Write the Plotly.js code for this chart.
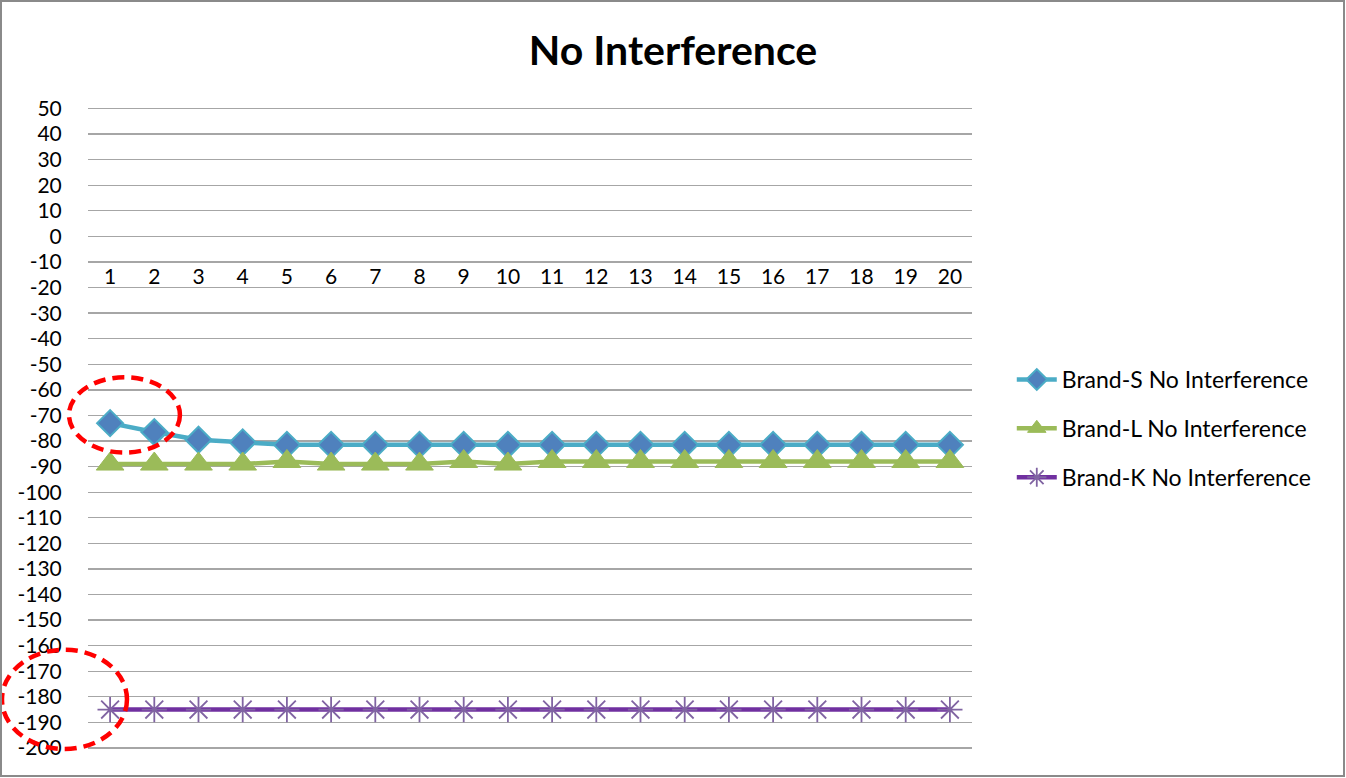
<!DOCTYPE html>
<html>
<head>
<meta charset="utf-8">
<script src="https://cdn.plot.ly/plotly-3.0.1.min.js"></script>
<style>
  html, body { margin: 0; padding: 0; background: #fff; }
  #chart { position: absolute; left: 0; top: 0; width: 1346px; height: 778px; }
  #frame { position: absolute; left: 0; top: 0; width: 1341px; height: 773px; border: 2px solid #8a8a8a; pointer-events: none; }
</style>
</head>
<body>
<div id="chart"></div>
<div id="frame"></div>
<script>
const categories = [1,2,3,4,5,6,7,8,9,10,11,12,13,14,15,16,17,18,19,20];
const brandS = [-73,-76.5,-79.5,-80.5,-81.5,-81.5,-81.5,-81.5,-81.5,-81.5,-81.5,-81.5,-81.5,-81.5,-81.5,-81.5,-81.5,-81.5,-81.5,-81.5];
const brandL = [-89,-89,-89,-89,-88,-89,-89,-89,-88,-89,-88,-88,-88,-88,-88,-88,-88,-88,-88,-88];
const brandK = [-185,-185,-185,-185,-185,-185,-185,-185,-185,-185,-185,-185,-185,-185,-185,-185,-185,-185,-185,-185];
const seriesNames = ['Brand-S No Interference','Brand-L No Interference','Brand-K No Interference'];
const yTicks = [50,40,30,20,10,0,-10,-20,-30,-40,-50,-60,-70,-80,-90,-100,-110,-120,-130,-140,-150,-160,-170,-180,-190,-200];

const FONT = 'Lato, "Liberation Sans", sans-serif';

const traces = [
  {x: categories, y: brandS, name: seriesNames[0], type: 'scatter', mode: 'lines+markers', legendgroup: 'a',
   line: {color: '#4BACC6', width: 4.5},
   marker: {symbol: 'diamond', size: 20, color: '#4F81BD', line: {color: '#4BACC6', width: 2}}},
  {x: categories, y: brandL, name: seriesNames[1], type: 'scatter', mode: 'lines+markers', legendgroup: 'b',
   line: {color: '#9BBB59', width: 4.5},
   marker: {symbol: 'triangle-up', size: 24, color: '#9BBB59', line: {color: '#9BBB59', width: 1}}},
  {x: categories, y: brandK, name: seriesNames[2], type: 'scatter', mode: 'lines+markers', legendgroup: 'c',
   line: {color: '#7030A0', width: 4.5},
   marker: {symbol: 'asterisk-open', size: 21, color: '#8064A2', line: {color: '#7B4FB5', width: 1.8}}}
];

const layout = {
  width: 1346, height: 778,
  margin: {l: 88, r: 374, t: 107, b: 28},
  paper_bgcolor: '#ffffff', plot_bgcolor: '#ffffff',
  font: {family: FONT, color: '#000', size: 21},
  title: {text: '<b>No Interference</b>', font: {family: FONT, size: 41, color: '#000'},
          x: 0.5, xref: 'container', xanchor: 'center', y: 0.935, yref: 'container', yanchor: 'middle'},
  xaxis: {range: [0.5, 20.5], anchor: 'free', position: 0.8, tickmode: 'array', tickvals: categories,
          ticktext: categories.map(String), showgrid: false, zeroline: false, showline: false,
          ticks: 'outside', ticklen: 22, tickcolor: 'rgba(0,0,0,0)',
          tickfont: {family: FONT, size: 21, color: '#000'}},
  yaxis: {range: [-200.8, 50.6], tickmode: 'array', tickvals: yTicks, ticktext: yTicks.map(String),
          showgrid: true, gridcolor: '#a6a6a6', gridwidth: 1.3, zeroline: false, showline: false,
          ticks: 'outside', ticklen: 21, tickcolor: 'rgba(0,0,0,0)',
          tickfont: {family: FONT, size: 21, color: '#000'}},
  legend: {x: 1.045, xanchor: 'left', y: 0.5, yanchor: 'middle', tracegroupgap: 16,
           font: {family: FONT, size: 23, color: '#000'}, bgcolor: 'rgba(0,0,0,0)', itemwidth: 40},
  shapes: [
    {type: 'circle', xref: 'paper', yref: 'paper', x0: -0.0215, x1: 0.104, y0: 0.4625, y1: 0.5797,
     line: {color: '#ff0000', width: 4.5, dash: '12px,7px'}},
    {type: 'circle', xref: 'paper', yref: 'paper', x0: -0.0973, x1: 0.0441, y0: 0.0016, y1: 0.156,
     line: {color: '#ff0000', width: 4.5, dash: '12px,7px'}}
  ],
  showlegend: true
};

Plotly.newPlot('chart', traces, layout, {displayModeBar: false, staticPlot: true});
</script>
</body>
</html>
